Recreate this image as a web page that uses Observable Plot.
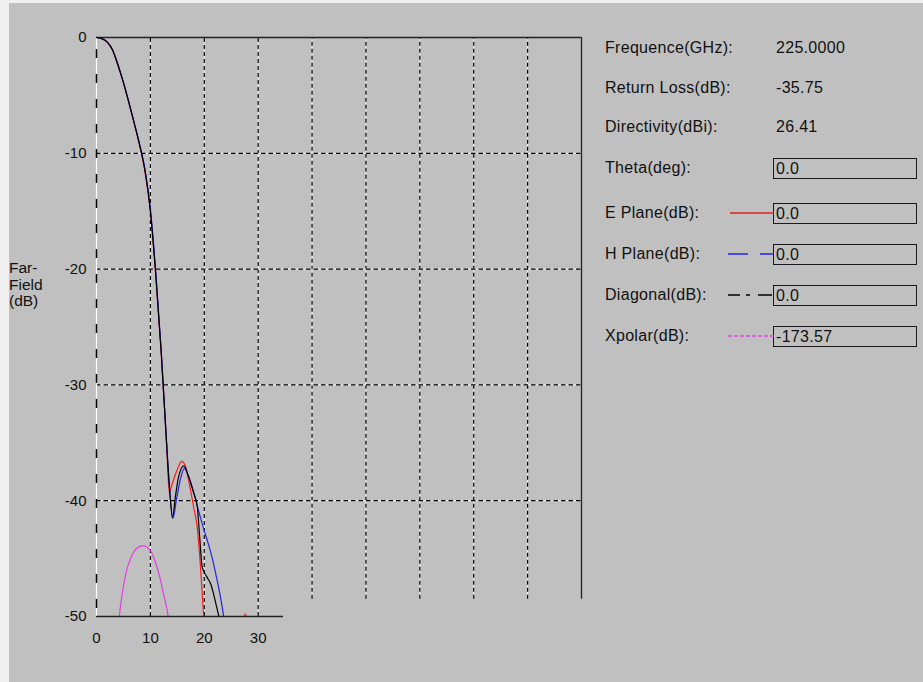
<!DOCTYPE html>
<html>
<head>
<meta charset="utf-8">
<script src="https://cdn.jsdelivr.net/npm/d3@7"></script>
<script src="https://cdn.jsdelivr.net/npm/@observablehq/plot@0.6"></script>
<style>
  html, body { margin: 0; padding: 0; background: #c0c0c0; }
  #wrap { position: relative; width: 923px; height: 682px; overflow: hidden;
          font-family: "Liberation Sans", Arial, sans-serif; color: #111; background: #c0c0c0; }
  #edgeTop { position: absolute; left: 0; top: 0; width: 923px; height: 3px; background: #f0f0f0; }
  #edgeLeft { position: absolute; left: 0; top: 0; width: 9px; height: 682px; background: #f0f0f0; }
  #chart { position: absolute; left: 0; top: 0; }
  .lbl { position: absolute; font-size: 16px; letter-spacing: 0.3px; line-height: 20px; white-space: nowrap; }
  .box { position: absolute; border: 1px solid #1a1a1a; box-sizing: border-box; width: 144px; height: 21px;
         font-size: 16px; letter-spacing: 0.3px; line-height: 19px; padding-left: 2px; white-space: nowrap; }
  .sample { position: absolute; }
  #ylab { position: absolute; left: 9px; top: 260px; font-size: 15.5px; line-height: 16.5px; }
</style>
</head>
<body>
<div id="wrap">
  <div id="edgeTop"></div>
  <div id="edgeLeft"></div>
  <div id="chart"></div>
  <div id="ylab">Far-<br>Field<br>(dB)</div>
  <div id="panel"></div>
</div>
<script>
// ---- data ----
const xTicks = [0, 10, 20, 30];
const yTicks = [0, -10, -20, -30, -40, -50];
const xGrid = [10, 20, 30, 40, 50, 60, 70, 80];
const yGrid = [-10, -20, -30, -40];

const eTheta = [0, 1, 2, 3, 4, 5, 6, 7, 8, 9, 10, 11, 12, 13, 13.5, 14, 15, 15.8, 16.5, 17, 18, 18.7, 19.3, 19.9, 20.5, 26.8, 27.6, 28.4];
const eDb    = [0, -0.1, -0.4, -1.1, -2.4, -3.9, -5.6, -7.4, -9.3, -11.6, -15.0, -20.5, -27.2, -35.0, -39.3, -38.6, -37.3, -36.6, -37.0, -38.0, -40.5, -42.3, -45.7, -50, -53, -51, -49.8, -51];

const hTheta = [0, 1, 2, 3, 4, 5, 6, 7, 8, 9, 10, 11, 12, 13, 13.5, 14.2, 14.8, 15.5, 16.3, 17, 18, 18.9, 20, 20.8, 21.5, 22.4, 23, 23.6, 24];
const hDb    = [0, -0.1, -0.4, -1.1, -2.4, -3.9, -5.6, -7.4, -9.2, -11.4, -14.8, -20.3, -27.0, -35.0, -38.6, -41.5, -40.0, -38.3, -37.2, -37.8, -39.2, -40.8, -42.6, -43.8, -45.0, -46.9, -48.3, -50, -51.5];

const dTheta = [0, 1, 2, 3, 4, 5, 6, 7, 8, 9, 10, 11, 12, 13, 13.5, 14.1, 14.6, 15.2, 16.2, 17, 18, 18.7, 19.2, 19.6, 20.5, 21.2, 21.7, 22.2, 22.7, 23.2];
const dDb    = [0, -0.1, -0.4, -1.1, -2.4, -3.9, -5.6, -7.4, -9.3, -11.5, -15.0, -20.5, -27.1, -35.0, -38.6, -41.5, -39.8, -38.0, -37.0, -37.8, -39.3, -40.5, -43.5, -45.7, -46.6, -47.2, -48.0, -49.0, -50, -51.5];

const xTheta = [0, 2, 3.5, 4.25, 4.7, 5.6, 6.5, 7.5, 8.6, 9.3, 10.0, 11.2, 11.8, 12.4, 13.3, 14, 15];
const xDb    = [-173.57, -80, -57, -50, -48.3, -46.0, -44.8, -44.1, -43.9, -44.0, -44.3, -45.7, -46.7, -48.0, -50, -53, -65];

const panelLabels = ["Frequence(GHz):", "Return Loss(dB):", "Directivity(dBi):", "Theta(deg):",
                     "E Plane(dB):", "H Plane(dB):", "Diagonal(dB):", "Xpolar(dB):"];
const panelValues = ["225.0000", "-35.75", "26.41"];
const boxValues = ["0.0", "0.0", "0.0", "0.0", "-173.57"];

// ---- build series table ----
const series = [
  {name: "E Plane", theta: eTheta, db: eDb, color: "#ff1a1a"},
  {name: "H Plane", theta: hTheta, db: hDb, color: "#2424e0"},
  {name: "Diagonal", theta: dTheta, db: dDb, color: "#000000"},
  {name: "Xpolar", theta: xTheta, db: xDb, color: "#e040e0"}
];
const rows = s => s.theta.map((t, i) => ({theta: t, db: s.db[i]}));

const font = '"Liberation Sans", Arial, sans-serif';

const plot = Plot.plot({
  width: 923,
  height: 682,
  marginLeft: 96,
  marginRight: 342,
  marginTop: 37,
  marginBottom: 66,
  x: {domain: [0, 90], axis: null},
  y: {domain: [-50, 0], axis: null},
  style: {background: "transparent", fontFamily: font, fontSize: "15px", color: "#111", overflow: "visible"},
  marks: [
    // vertical grid: white base + black dashes
    Plot.ruleX(xGrid, {x: d => d, y1: d => d <= 30 ? -50 : -48.5, y2: 0, stroke: "#f4f4f4", strokeWidth: 1}),
    Plot.ruleX(xGrid, {x: d => d, y1: d => d <= 30 ? -50 : -48.5, y2: 0, stroke: "#000", strokeWidth: 1.2, strokeDasharray: "4,3"}),
    // horizontal grid
    Plot.ruleY(yGrid, {y: d => d, x1: 0, x2: 90, stroke: "#f4f4f4", strokeWidth: 1}),
    Plot.ruleY(yGrid, {y: d => d, x1: 0, x2: 90, stroke: "#000", strokeWidth: 1.2, strokeDasharray: "4.5,3"}),
    // left axis: white line with sparse black dashes
    Plot.ruleX([0], {y1: -50, y2: 0, stroke: "#ffffff", strokeWidth: 1.2}),
    Plot.ruleX([0], {y1: -50, y2: 0, stroke: "#000", strokeWidth: 1.5, strokeDasharray: "9,16", strokeDashoffset: -8}),
    // frame: top and right
    Plot.ruleY([0], {x1: 0, x2: 90, stroke: "#222", strokeWidth: 1.3}),
    Plot.ruleX([90], {y1: -48.5, y2: 0, stroke: "#222", strokeWidth: 1.3}),
    // curves
    ...series.map(s => Plot.line(rows(s), {x: "theta", y: "db", stroke: s.color, strokeWidth: 1.2, curve: "monotone-x", clip: true})),
    // bottom axis (short)
    Plot.ruleY([-50], {x1: 0, x2: 34.7, stroke: "#222", strokeWidth: 1.3}),
    // tick labels
    Plot.text(yTicks, {x: 0, y: d => d, text: d => String(d), dx: -10, textAnchor: "end", fontSize: 15, fill: "#111"}),
    Plot.text(xTicks, {x: d => d, y: -50, text: d => String(d), dy: 22, fontSize: 15, fill: "#111"})
  ]
});
document.getElementById("chart").appendChild(plot);

// ---- right-hand info panel (legend) ----
const panel = document.getElementById("panel");
const rowY = [48, 88, 127, 168, 213, 254, 295, 336];
panelLabels.forEach((t, i) => {
  const d = document.createElement("div");
  d.className = "lbl";
  d.style.left = "605px";
  d.style.top = (rowY[i] - 10) + "px";
  d.textContent = t;
  panel.appendChild(d);
});
panelValues.forEach((t, i) => {
  const d = document.createElement("div");
  d.className = "lbl";
  d.style.left = "776px";
  d.style.top = (rowY[i] - 10) + "px";
  d.textContent = t;
  panel.appendChild(d);
});
boxValues.forEach((t, i) => {
  const d = document.createElement("div");
  d.className = "box";
  d.style.left = "773px";
  d.style.top = (rowY[i + 3] - 10) + "px";
  d.textContent = t;
  panel.appendChild(d);
});
// line samples
const dashes = [null, "20,12,14", "12,6,4,8,14", "4,2"];
series.forEach((s, i) => {
  const y = rowY[i + 4];
  const svg = document.createElementNS("http://www.w3.org/2000/svg", "svg");
  svg.setAttribute("class", "sample");
  svg.setAttribute("width", 46);
  svg.setAttribute("height", 6);
  svg.style.left = "728px";
  svg.style.top = (y - 3) + "px";
  const ln = document.createElementNS("http://www.w3.org/2000/svg", "line");
  ln.setAttribute("x1", i === 0 ? 2 : 0);
  ln.setAttribute("x2", 46);
  ln.setAttribute("y1", 3);
  ln.setAttribute("y2", 3);
  ln.setAttribute("stroke", i === 2 ? "#000" : (i === 0 ? "#e02020" : s.color));
  ln.setAttribute("stroke-width", 1.3);
  if (dashes[i]) ln.setAttribute("stroke-dasharray", dashes[i]);
  svg.appendChild(ln);
  panel.appendChild(svg);
});
</script>
</body>
</html>
